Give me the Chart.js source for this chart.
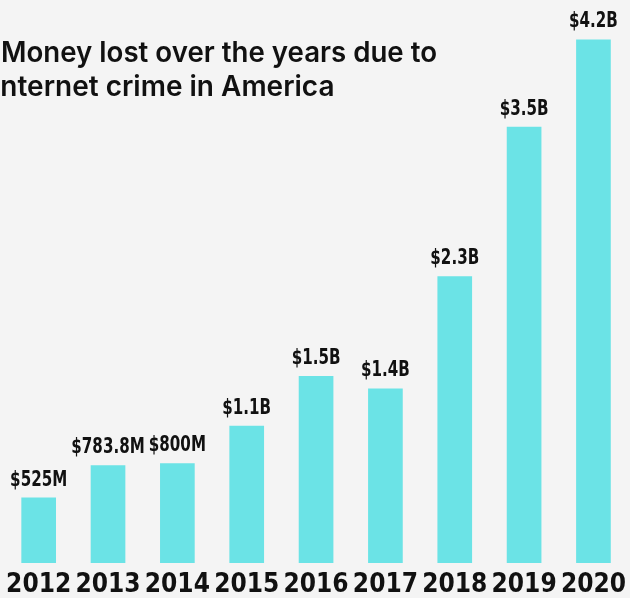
<!DOCTYPE html>
<html lang="en">
<head>
    <meta charset="UTF-8">
    <title>Money lost to internet crime</title>
    <script src="https://cdn.jsdelivr.net/npm/chart.js"></script>
    <style>
        html, body { margin: 0; padding: 0; background: #f4f4f4; overflow: hidden; }
        #wrap { position: relative; width: 630px; height: 598px; }
    </style>
</head>
<body>
    <div id="wrap"><canvas id="myChart"></canvas></div>
<script>
    const years = ['2012', '2013', '2014', '2015', '2016', '2017', '2018', '2019', '2020']
    const lossBillions = [0.525, 0.7838, 0.8, 1.1, 1.5, 1.4, 2.3, 3.5, 4.2]
    const lossLabels = ['$525M', '$783.8M', '$800M', '$1.1B', '$1.5B', '$1.4B', '$2.3B', '$3.5B', '$4.2B']
    const titleLines = ['Money lost over the years due to', 'internet crime in America']

    const narrow = "'DejaVu Sans Condensed', 'DejaVu Sans', sans-serif"

    // value labels above the bars, squeezed a bit to look condensed
    const barLabels = {
      id: 'barLabels',
      afterDatasetsDraw(chart) {
        const ctx = chart.ctx
        const meta = chart.getDatasetMeta(0)
        ctx.save()
        ctx.font = 'bold 21px ' + narrow
        ctx.fillStyle = '#111'
        ctx.textAlign = 'center'
        ctx.textBaseline = 'alphabetic'
        meta.data.forEach((bar, i) => {
          const w = ctx.measureText(lossLabels[i]).width
          ctx.fillText(lossLabels[i], bar.x, bar.y - 12, w * 0.8)
        })
        ctx.restore()
      }
    }

    // title sits inside the plot, top left
    const topTitle = {
      id: 'topTitle',
      afterDraw(chart) {
        const ctx = chart.ctx
        ctx.save()
        ctx.font = '600 28px Inter, sans-serif'
        ctx.fillStyle = '#111'
        ctx.textBaseline = 'alphabetic'
        ctx.fillText(titleLines[0], 1, 62, 436)
        ctx.fillText(titleLines[1], -7, 96, 350)
        ctx.restore()
      }
    }

    const ctx = document.getElementById('myChart').getContext('2d')
    const chart = new Chart(ctx, {
      type: 'bar',
      data: {
        labels: years,
        datasets: [{
          data: lossBillions,
          backgroundColor: '#6be3e6',
          categoryPercentage: 1,
          barPercentage: 0.5
        }]
      },
      options: {
        responsive: true,
        maintainAspectRatio: false,
        animation: false,
        layout: { padding: { left: 4, right: -3, top: 2, bottom: -9 } },
        scales: {
          x: {
            grid: { display: false, drawTicks: false },
            border: { display: false },
            ticks: {
              color: '#111',
              padding: 4,
              autoSkip: false,
              maxRotation: 0,
              font: { family: narrow, size: 26, weight: 'bold', lineHeight: 1.385 }
            }
          },
          y: {
            display: false,
            min: 0,
            max: 4.5
          }
        },
        plugins: {
          legend: { display: false },
          tooltip: { enabled: false }
        }
      },
      plugins: [barLabels, topTitle]
    })
</script>
</body>
</html>
